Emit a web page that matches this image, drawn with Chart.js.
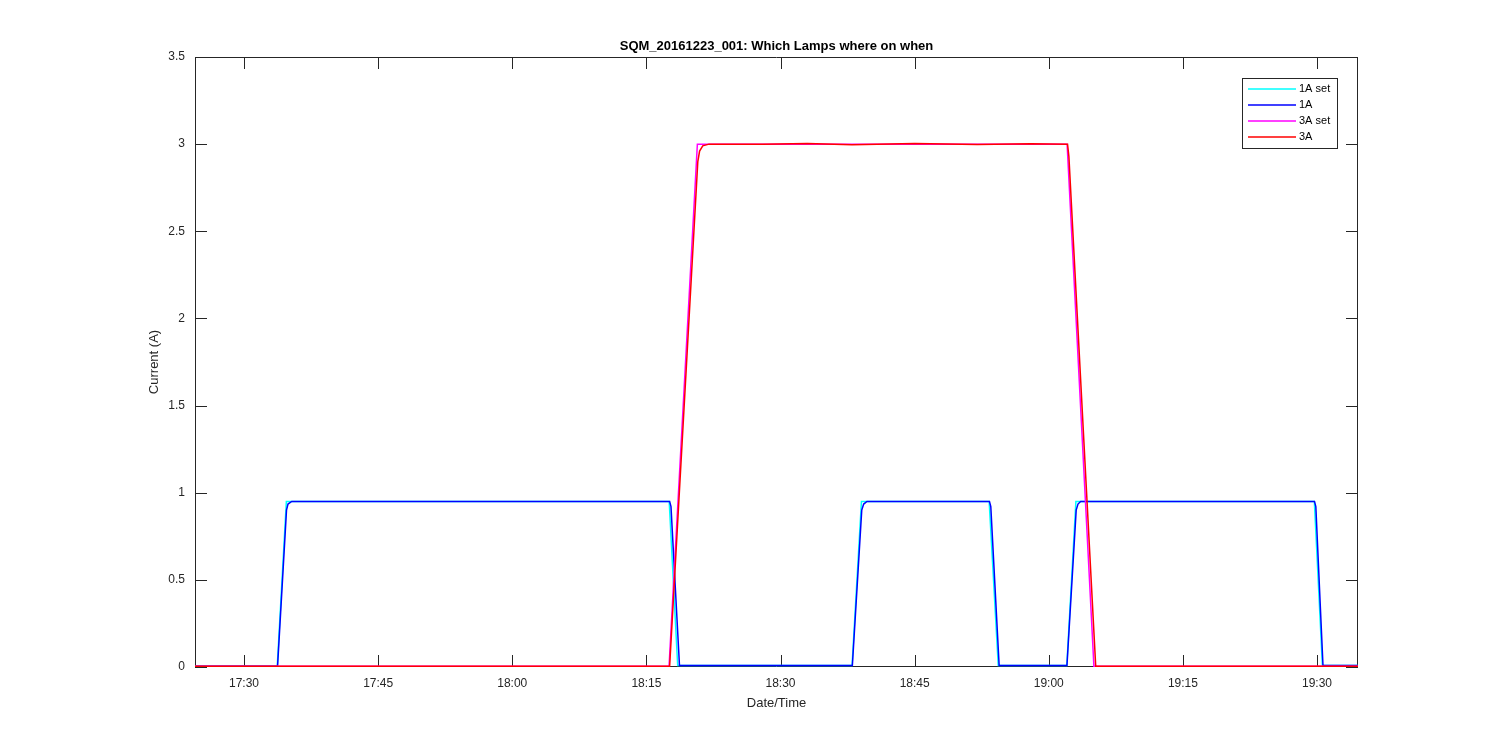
<!DOCTYPE html>
<html>
<head>
<meta charset="utf-8">
<title>SQM_20161223_001</title>
<script src="https://cdn.jsdelivr.net/npm/chart.js@4.4.1/dist/chart.umd.min.js"></script>
<style>
  body { margin: 0; background: #fff; }
  #wrap { width: 1500px; height: 750px; }
</style>
</head>
<body>
<div id="wrap"><canvas id="myChart" width="1500" height="750"></canvas></div>
<script>
// times are clock times on 2016-12-23, currents in A
const seriesNames = ['1A set', '1A', '3A set', '3A'];
const seriesColors = ['#00ffff', '#0000ff', '#ff00ff', '#ff0000'];

const xTickLabels = ['17:30', '17:45', '18:00', '18:15', '18:30', '18:45', '19:00', '19:15', '19:30'];
const xRange = ['17:24:31', '19:34:35'];

const set1ATimes = ['17:24:31', '17:33:43', '17:34:44', '18:17:33', '18:18:30', '18:38:00', '18:39:03',
  '18:53:20', '18:54:21', '19:02:01', '19:03:02', '19:29:42', '19:30:36', '19:34:35'];
const set1AValues = [0.005, 0.005, 0.95, 0.95, 0.008, 0.008, 0.95, 0.95, 0.008, 0.008, 0.95, 0.95, 0.008, 0.008];

const lamp1ATimes = ['17:24:31', '17:33:45', '17:34:45', '17:34:55', '17:35:20', '18:17:36', '18:17:45',
  '18:18:42', '18:38:02', '18:39:05', '18:39:18', '18:39:40', '18:53:22', '18:53:31', '18:54:27',
  '19:02:02', '19:03:04', '19:03:16', '19:03:34', '19:29:43', '19:29:52', '19:30:40', '19:34:35'];
const lamp1AValues = [0.005, 0.005, 0.90, 0.935, 0.95, 0.95, 0.92, 0.008, 0.008, 0.90, 0.935, 0.95, 0.95, 0.92,
  0.008, 0.008, 0.90, 0.935, 0.95, 0.95, 0.92, 0.008, 0.008];

const set3ATimes = ['17:24:31', '18:17:32', '18:20:42', '19:02:03', '19:05:03', '19:34:35'];
const set3AValues = [0.004, 0.004, 3.0, 3.0, 0.004, 0.004];

const lamp3ATimes = ['17:24:31', '18:17:36', '18:20:45', '18:20:57', '18:21:18', '18:22:00', '18:28:00',
  '18:33:00', '18:38:00', '18:45:00', '18:52:00', '18:58:00', '19:02:06', '19:02:15', '19:05:15', '19:34:35'];
const lamp3AValues = [0.005, 0.005, 2.90, 2.96, 2.99, 3.0, 3.0, 3.004, 2.997, 3.003, 2.998, 3.002, 3.0, 2.93,
  0.005, 0.005];

function toMinutes(s) {
  const p = s.split(':').map(Number);
  return p[0] * 60 + p[1] + (p[2] || 0) / 60;
}
function pad(n) { return String(n).padStart(2, '0'); }
function toPoints(times, values) {
  return times.map((t, i) => ({x: toMinutes(t), y: values[i]}));
}

const fontFamily = "'Liberation Sans', Arial, Helvetica, sans-serif";
Chart.defaults.font.family = fontFamily;

const seriesData = [
  toPoints(set1ATimes, set1AValues),
  toPoints(lamp1ATimes, lamp1AValues),
  toPoints(set3ATimes, set3AValues),
  toPoints(lamp3ATimes, lamp3AValues)
];

// frame with inward ticks (under the data) and a boxed legend, matlab style
const framePlugin = {
  id: 'frame',
  beforeDatasetsDraw(chart) {
    const {ctx, chartArea: a, scales: {x, y}} = chart;
    const len = 12;
    ctx.save();
    ctx.strokeStyle = '#262626';
    ctx.lineWidth = 1;
    ctx.beginPath();
    ctx.rect(a.left + 0.5, a.top + 0.5, a.right - a.left - 1, a.bottom - a.top - 1);
    x.ticks.forEach(t => {
      const px = Math.round(x.getPixelForValue(t.value)) + 0.5;
      ctx.moveTo(px, a.bottom); ctx.lineTo(px, a.bottom - len);
      ctx.moveTo(px, a.top); ctx.lineTo(px, a.top + len);
    });
    y.ticks.forEach(t => {
      const py = Math.round(y.getPixelForValue(t.value)) + 0.5;
      ctx.moveTo(a.left, py); ctx.lineTo(a.left + len, py);
      ctx.moveTo(a.right, py); ctx.lineTo(a.right - len, py);
    });
    ctx.stroke();
    ctx.restore();
  },
  afterDatasetsDraw(chart) {
    const {ctx, chartArea: a} = chart;
    const bx = a.right - 116, by = a.top + 21, bw = 95, bh = 70;
    ctx.save();
    ctx.fillStyle = '#fff';
    ctx.fillRect(bx, by, bw, bh);
    ctx.strokeStyle = '#262626';
    ctx.lineWidth = 1;
    ctx.strokeRect(bx + 0.5, by + 0.5, bw, bh);
    ctx.font = '11px ' + fontFamily;
    ctx.textBaseline = 'middle';
    ctx.textAlign = 'left';
    seriesNames.forEach((name, i) => {
      const ry = Math.round(by + 11 + i * 15.9);
      ctx.strokeStyle = seriesColors[i];
      ctx.lineWidth = 1.4;
      ctx.beginPath();
      ctx.moveTo(bx + 6, ry); ctx.lineTo(bx + 54, ry);
      ctx.stroke();
      ctx.fillStyle = '#000';
      ctx.fillText(name, bx + 57, ry);
    });
    ctx.restore();
  }
};

const ctx = document.getElementById('myChart').getContext('2d');
const chart = new Chart(ctx, {
  type: 'line',
  data: {
    datasets: seriesNames.map((name, i) => ({
      label: name,
      data: seriesData[i],
      borderColor: seriesColors[i],
      backgroundColor: seriesColors[i],
      borderWidth: 1.5,
      pointRadius: 0,
      tension: 0,
      fill: false,
      order: 4 - i
    }))
  },
  options: {
    responsive: false,
    animation: false,
    events: [],
    layout: {padding: {left: 0, right: 142, top: 0, bottom: 0}},
    plugins: {
      legend: {display: false},
      tooltip: {enabled: false},
      title: {
        display: true,
        fullSize: false,
        text: 'SQM_20161223_001: Which Lamps where on when',
        color: '#000',
        font: {size: 13, weight: 'bold'},
        padding: {top: 39, bottom: 2.4}
      }
    },
    scales: {
      x: {
        type: 'linear',
        min: toMinutes(xRange[0]),
        max: toMinutes(xRange[1]),
        grid: {display: false, drawTicks: false},
        border: {display: false},
        afterBuildTicks: scale => {
          scale.ticks = xTickLabels.map(l => ({value: toMinutes(l)}));
        },
        afterFit: scale => { scale.height = 83; },
        ticks: {
          color: '#262626',
          font: {size: 12},
          padding: 9,
          maxRotation: 0,
          autoSkip: false,
          callback: v => pad(Math.floor(v / 60)) + ':' + pad(Math.round(v % 60))
        },
        title: {
          display: true,
          text: 'Date/Time',
          color: '#262626',
          font: {size: 13},
          padding: {top: 0, bottom: 39.2}
        }
      },
      y: {
        min: 0,
        max: 3.5,
        grid: {display: false, drawTicks: false},
        border: {display: false},
        afterFit: scale => { scale.width = 195; },
        ticks: {
          stepSize: 0.5,
          color: '#262626',
          font: {size: 12},
          padding: 10,
          callback: v => String(v)
        },
        title: {
          display: true,
          text: 'Current (A)',
          color: '#262626',
          font: {size: 13},
          padding: {top: 147, bottom: 0}
        }
      }
    }
  },
  plugins: [framePlugin]
});
</script>
</body>
</html>
